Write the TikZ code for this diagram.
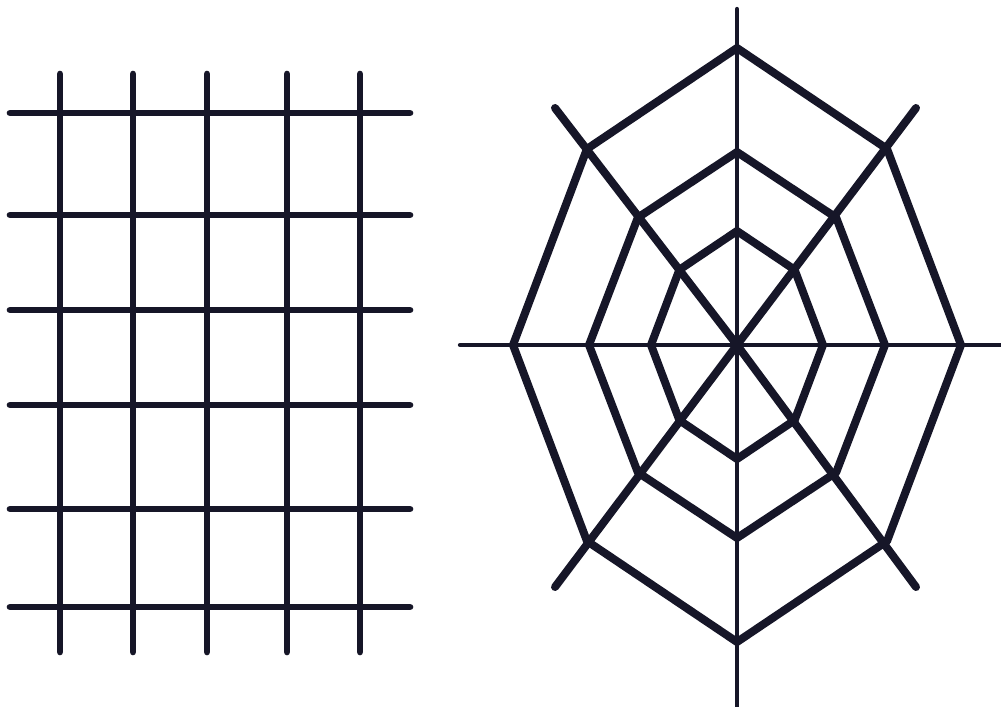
\documentclass[tikz,border=0pt]{standalone}
\usepackage{tikz}
\definecolor{inkblue}{RGB}{22,22,40}
\tikzset{
  gridline/.style={draw=inkblue, line width=0.2cm, line cap=round},
  webline/.style ={draw=inkblue, line width=0.24cm, line cap=round, line join=round},
  axisline/.style={draw=inkblue, line width=0.13cm, line cap=round}
}
\begin{document}
\begin{tikzpicture}[x=0.03cm, y=-0.03cm]
\useasboundingbox (0,0) rectangle (1001,707);
% grid
\foreach \gy in {113,215,310,405,509,607}
  \draw[gridline] (10,\gy) -- (410,\gy);
\foreach \gx in {60,133,207,287,360}
  \draw[gridline] (\gx,74) -- (\gx,652);
% web
\begin{scope}[shift={(737,345)}]
\coordinate (hub) at (0,0);
\draw[axisline] (0,-336) -- (hub) -- (0,375);
\draw[axisline] (-277,0) -- (hub) -- (270,0);
\draw[webline] (-182,-237) -- (hub) -- (179,242);
\draw[webline] (179,-237) -- (hub) -- (-182,242);
\foreach \rx/\ry in {224/297,148/193,86/114}
  \draw[webline] (\rx,0) -- ({0.67*\rx},{0.66*\ry}) -- (0,\ry)
    -- ({-0.67*\rx},{0.66*\ry}) -- (-\rx,0) -- ({-0.67*\rx},{-0.66*\ry})
    -- (0,-\ry) -- ({0.67*\rx},{-0.66*\ry}) -- cycle;
\end{scope}
\end{tikzpicture}
\end{document}
